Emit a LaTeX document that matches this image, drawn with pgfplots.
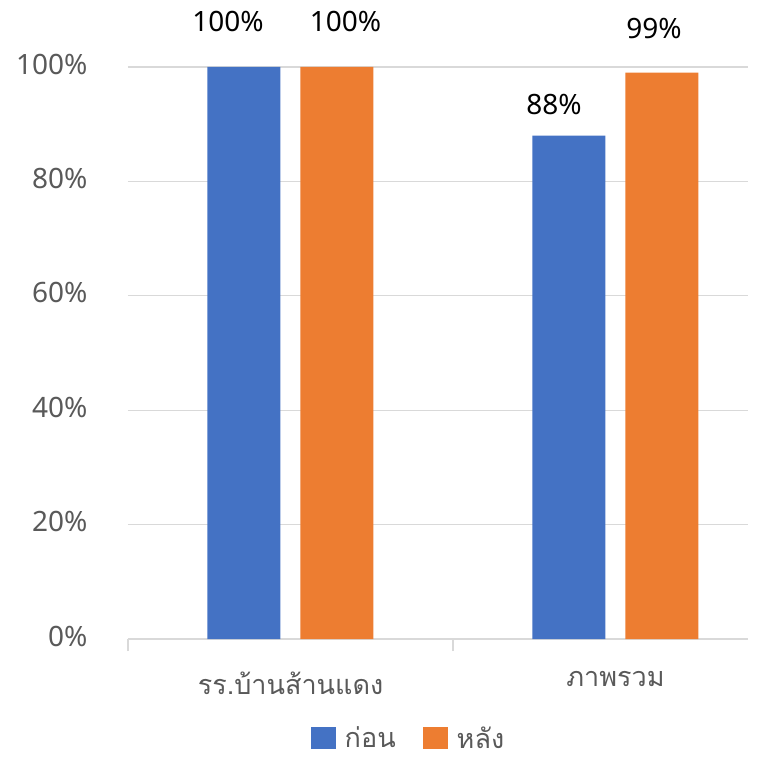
\documentclass[border=0pt]{standalone}
\usepackage{pgfplots}
\usepackage{pgfplotstable}
\pgfplotsset{compat=1.18}
\usepackage{fontspec}
\setmainfont{Noto Sans}
\newfontfamily\thaifont[Script=Thai]{Loma}
\definecolor{cblue}{HTML}{4472C4}
\definecolor{corange}{HTML}{ED7D31}
\definecolor{tickgray}{HTML}{595959}
\definecolor{gridgray}{HTML}{D9D9D9}

\pgfplotstableread{
x y dx dy
0 100 -16 35
1 88 -15 21
}\before
\pgfplotstableread{
x y dx dy
0 100 8.5 35
1 99 -8 34
}\after

\begin{document}
\begin{tikzpicture}
\path[use as bounding box] (-128pt,-125pt) rectangle (634pt,639pt);
\begin{axis}[
  at={(0,0)}, anchor=south west,
  scale only axis, width=620pt, height=572pt,
  xmin=-0.5, xmax=1.4077, ymin=0, ymax=100,
  ybar=20pt, bar width=73pt,
  axis x line*=bottom, axis y line*=left,
  y axis line style={draw=none},
  x axis line style={draw=gridgray, line width=1.3pt},
  ymajorgrids, grid style={draw=gridgray, line width=1.2pt},
  ytick={0,20,40,60,80,100},
  yticklabel={\pgfmathprintnumber{\tick}\%},
  ytick style={draw=none},
  /pgf/number format/assume math mode=true,
  yticklabel style={font=\fontsize{28}{32}\selectfont, text=tickgray, xshift=-37pt, yshift=3pt},
  xtick={0,1},
  xticklabels={รร.บ้านส้านแดง, ภาพรวม},
  xtick style={draw=none},
  xticklabel style={font=\thaifont\fontsize{27}{32}\selectfont, text=tickgray, yshift=-25pt},
  extra x ticks={-0.5,0.5},
  extra x tick labels={},
  extra x tick style={xtick style={draw=gridgray, line width=1.3pt}, major tick length=12pt, tick align=outside, xmajorgrids=false},
  legend style={draw=none, fill=none, legend columns=2, at={(0.4516,-0.173)}, anchor=center,
    font=\thaifont\fontsize{27}{32}\selectfont, text=tickgray, inner sep=0pt,
    nodes={inner sep=1pt},
    /tikz/every even column/.append style={column sep=26pt}},
  nodes near coords={\pgfmathprintnumber{\pgfplotspointmeta}\%},
  point meta=explicit,
  visualization depends on={\thisrow{dx} \as \dx},
  visualization depends on={\thisrow{dy} \as \dy},
  every node near coord/.append style={font=\fontsize{28}{32}\selectfont, text=black, anchor=south, inner sep=0pt, xshift=\dx pt, yshift=\dy pt},
]
\addplot[fill=cblue, draw=none, legend image code/.code={\fill[cblue] (0pt,-11pt) rectangle (25pt,11pt); \path (33pt,0pt);}]
  table[x=x, y=y, meta=y] {\before};
\addplot[fill=corange, draw=none, legend image code/.code={\fill[corange] (0pt,-11pt) rectangle (25pt,11pt); \path (33pt,0pt);}]
  table[x=x, y=y, meta=y] {\after};
\legend{ก่อน, หลัง}
\end{axis}
\end{tikzpicture}
\end{document}
